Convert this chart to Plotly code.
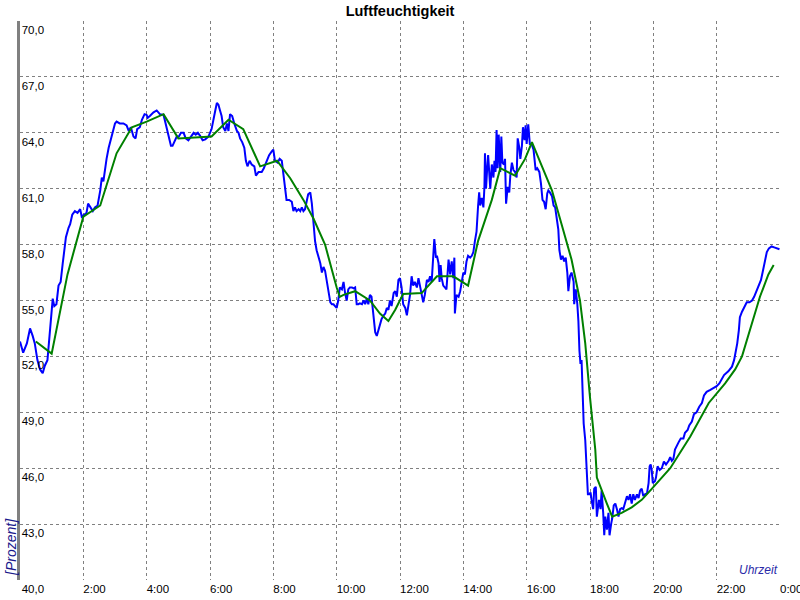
import plotly.graph_objects as go

# ---- data (minutes since midnight, relative humidity %) ----
blue_min = [0, 6, 13, 19, 24, 28, 33, 38, 43, 47, 52, 56, 59, 62, 65, 69, 73, 77, 81, 84, 87, 92, 95, 99, 104, 109, 114, 117, 122, 126, 129, 134, 138, 142, 147, 152, 155, 158, 161, 164, 168, 172, 176, 180, 183, 189, 196, 202, 206, 210, 215, 219, 222, 227, 231, 236,
            240, 242, 246, 253, 259, 265, 272, 276, 279, 282, 286, 289, 294, 297, 301, 305, 310, 314, 319, 324, 329, 333, 337, 341, 346, 351, 357, 363, 366, 370, 373, 376, 379, 382, 385, 389, 392, 395, 398, 402, 406, 411, 414, 417, 421, 425, 428, 431, 435, 439, 444, 447, 452, 458, 462, 467, 472,
            477, 480, 483, 488, 492, 496, 499, 502, 505, 510, 515, 518, 521, 524, 528, 531, 534, 537, 540, 543, 546, 550, 553, 556, 559, 562, 565, 569, 572, 575, 578, 581, 584, 588, 591, 594, 597, 600, 603, 606, 610, 613, 616, 619, 622, 625, 629, 632, 635, 638, 641, 644, 648, 651, 654, 657, 660, 663, 666, 670, 673, 676, 679, 682, 685, 689, 692, 695, 698, 701, 704, 708,
            711, 714, 717, 720, 723, 726, 730, 733, 736, 739, 742, 745, 748, 752, 755, 758, 761, 764, 767, 771, 774, 777, 780, 782, 785, 786, 788, 790, 793, 795, 797, 799, 802, 805, 808, 812, 815, 818, 821, 823, 824, 827, 831, 834, 837, 840, 843, 846, 849, 853, 856, 859, 862, 865, 868, 870, 872, 875, 878, 880, 881, 883, 885, 887, 891, 894, 897, 899, 901, 903, 905, 907, 910, 912, 914, 917, 919, 921, 924, 927, 929, 932, 935, 938, 941, 943, 946, 948, 951, 953, 956, 958, 960, 963,
            966, 970, 973, 975, 977, 980, 984, 987, 990, 993, 996, 999, 1001, 1004, 1008, 1011, 1014, 1017, 1020, 1022, 1025, 1028, 1031, 1034, 1037, 1039, 1042, 1045, 1049, 1050, 1053, 1056, 1058, 1060, 1062, 1064, 1066, 1068, 1071, 1073, 1074, 1076, 1079, 1081, 1083, 1086, 1088, 1091, 1093, 1095, 1097, 1100, 1102, 1105, 1107, 1109, 1112, 1115, 1117, 1120, 1122, 1125, 1128, 1131, 1134, 1137, 1140, 1143, 1146, 1150, 1153, 1156, 1159, 1162, 1165, 1169, 1172, 1175, 1178, 1181, 1184, 1188, 1191, 1193, 1195, 1197,
            1199, 1203, 1205, 1208, 1212, 1216, 1220, 1224, 1229, 1232, 1235, 1238, 1241, 1244, 1248, 1252, 1257, 1260, 1265, 1268, 1273, 1277, 1282, 1287, 1292, 1296, 1301, 1308, 1314, 1320, 1325, 1330, 1334, 1342, 1349, 1353, 1357, 1359, 1362, 1364, 1368, 1372, 1377, 1382, 1387, 1391, 1395, 1399, 1404, 1407, 1411, 1415, 1419, 1424, 1429, 1434, 1439]
blue_val = [52.8, 52.2, 52.7, 53.5, 53.1, 52.7, 51.8, 51.3, 51.1, 51.5, 51.8, 53.1, 54.0, 55.1, 54.7, 54.8, 55.8, 56.0, 57.0, 57.9, 58.4, 58.9, 59.1, 59.6, 59.8, 59.7, 59.9, 59.5, 59.6, 59.7, 60.2, 60.0, 59.8, 60.0, 60.1, 60.9, 61.6, 61.4, 62.1, 62.6, 63.2, 63.6, 64.1, 64.5, 64.6, 64.5, 64.5, 64.4, 64.1, 64.3, 63.8, 63.7, 64.2, 64.3, 64.7, 65.0,
            64.96, 64.8, 64.9, 65.1, 65.2, 65.0, 64.96, 64.5, 64.0, 63.8, 63.3, 63.3, 63.6, 63.8, 63.8, 64.0, 64.0, 63.7, 63.6, 63.8, 64.0, 63.9, 64.0, 63.85, 63.6, 63.65, 63.8, 64.2, 64.7, 65.2, 65.6, 65.5, 65.2, 64.9, 64.3, 64.1, 64.5, 64.1, 65.0, 64.9, 64.5, 64.1, 64.0, 63.7, 63.5, 63.2, 62.5, 62.2, 62.5, 62.3, 62.2, 61.7, 61.9, 61.9, 62.1, 62.5, 62.8,
            63.0, 63.1, 62.5, 62.4, 62.6, 62.5, 61.8, 60.9, 60.4, 60.4, 60.3, 59.8, 60.0, 59.8, 59.9, 59.8, 60.0, 59.8, 59.9, 60.3, 60.7, 60.8, 60.2, 59.2, 58.2, 57.7, 57.4, 57.0, 56.5, 56.8, 56.6, 56.1, 55.4, 54.9, 54.8, 54.8, 54.7, 54.6, 55.0, 55.7, 55.6, 56.0, 55.4, 55.0, 55.6, 55.7, 55.7, 55.65, 55.7, 54.8, 54.8, 54.85, 54.8, 55.0, 54.8, 55.1, 54.8, 55.3, 55.2, 54.0, 53.3, 53.1, 53.4, 53.6, 54.0, 54.2, 54.3, 54.6, 54.5, 55.0, 54.7, 55.4,
            55.5, 55.2, 56.1, 56.2, 55.7, 54.8, 54.6, 54.2, 54.7, 55.3, 56.3, 55.8, 56.0, 55.7, 56.2, 55.7, 55.3, 54.9, 55.3, 56.1, 56.0, 56.3, 56.0, 57.1, 58.3, 58.0, 57.3, 57.4, 57.0, 56.0, 56.9, 56.2, 55.8, 55.7, 55.6, 57.2, 56.4, 57.1, 56.2, 57.3, 54.3, 55.3, 55.2, 55.5, 56.1, 56.5, 56.4, 57.1, 57.4, 57.3, 57.4, 57.6, 58.2, 58.7, 60.1, 60.8, 60.1, 60.5, 60.0, 61.1, 62.9, 61.0, 62.0, 62.8, 61.0, 62.3, 61.6, 62.5, 61.9, 64.15, 62.1, 63.9, 61.9, 63.8, 62.4, 62.3, 62.6, 60.2, 61.1, 60.8, 61.7, 62.4, 62.0, 61.9, 61.6, 63.7, 63.2, 62.6, 63.3, 64.3, 63.6, 64.4, 63.4, 64.45,
            63.4, 63.35, 63.1, 62.5, 62.0, 62.1, 61.9, 61.3, 60.4, 60.3, 59.9, 60.75, 60.9, 60.8, 60.6, 60.1, 60.0, 59.4, 58.8, 57.7, 57.2, 57.4, 57.1, 57.3, 56.5, 55.5, 56.3, 56.5, 56.0, 54.8, 55.6, 54.8, 53.9, 52.3, 51.6, 51.8, 50.0, 48.4, 47.5, 46.3, 45.4, 44.6, 44.6, 44.7, 44.3, 43.8, 44.9, 45.0, 43.4, 43.9, 44.3, 43.8, 44.8, 43.6, 42.4, 43.4, 42.7, 43.6, 42.4, 43.0, 43.3, 44.0, 44.1, 43.8, 43.4, 43.8, 43.85, 43.8, 44.1, 44.5, 44.3, 44.6, 44.1, 44.6, 44.3, 44.6, 44.4, 44.8, 44.9, 44.5, 44.6, 44.65, 45.2, 46.1, 46.2, 45.9,
            45.2, 45.3, 45.5, 46.1, 45.9, 46.0, 46.35, 46.2, 46.4, 46.6, 46.4, 46.5, 47.0, 47.2, 47.4, 47.6, 47.6, 47.9, 48.05, 48.3, 48.5, 48.9, 49.0, 49.3, 49.5, 49.9, 50.1, 50.2, 50.3, 50.4, 50.55, 50.8, 51.0, 51.2, 51.45, 51.8, 52.3, 52.7, 53.4, 54.1, 54.4, 54.6, 54.9, 54.9, 55.0, 55.2, 55.5, 55.7, 56.1, 56.5, 57.0, 57.6, 57.8, 57.9, 57.85, 57.8, 57.75]

green_min = [30, 60, 90, 120, 152, 183, 212, 240, 272, 300, 363, 395, 423, 455, 487, 512, 537, 556, 578, 591, 600, 606, 613, 635, 663, 682, 698, 711, 726, 761, 790, 821, 849, 868, 894, 910, 938, 957, 970, 989, 1008, 1026, 1045, 1061, 1071, 1080, 1090, 1093, 1102, 1112, 1122, 1140, 1159, 1178, 1194, 1232, 1270, 1305, 1336, 1355, 1368, 1383, 1402, 1418, 1428]
green_val = [52.8, 52.15, 56.4, 59.5, 60.1, 62.9, 64.3, 64.6, 65.0, 63.7, 63.8, 64.7, 64.2, 62.2, 62.5, 61.56, 60.4, 59.4, 58.0, 56.6, 55.7, 55.2, 55.3, 55.5, 55.0, 54.3, 53.9, 54.5, 55.35, 55.4, 56.3, 56.3, 55.8, 58.2, 60.4, 62.1, 61.7, 62.6, 63.5, 62.2, 60.9, 59.1, 57.2, 55.0, 52.7, 49.8, 47.0, 45.5, 44.8, 44.1, 43.4, 43.6, 43.9, 44.3, 44.8, 46.0, 47.7, 49.5, 50.55, 51.3, 52.0, 53.4, 55.2, 56.4, 56.9]

x_tickvals = [2, 4, 6, 8, 10, 12, 14, 16, 18, 20, 22, 24]
x_ticktext = ["2:00", "4:00", "6:00", "8:00", "10:00", "12:00", "14:00", "16:00", "18:00", "20:00", "22:00", "0:00"]
y_tickvals = [40, 43, 46, 49, 52, 55, 58, 61, 64, 67, 70]
y_ticktext = ["40,0", "43,0", "46,0", "49,0", "52,0", "55,0", "58,0", "61,0", "64,0", "67,0", "70,0"]

FONT = "Liberation Sans, Arial, sans-serif"

fig = go.Figure()
fig.add_trace(go.Scatter(x=[m / 60 for m in blue_min], y=blue_val, mode="lines",
                         line=dict(color="#0000FF", width=2), hoverinfo="skip"))
fig.add_trace(go.Scatter(x=[m / 60 for m in green_min], y=green_val, mode="lines",
                         line=dict(color="#008000", width=2), hoverinfo="skip"))

fig.update_layout(
    width=800, height=600,
    margin=dict(l=20, r=20, t=21, b=20, autoexpand=False),
    paper_bgcolor="white", plot_bgcolor="white",
    showlegend=False,
    font=dict(family=FONT, color="#000000", size=11.5),
    title=dict(text="<b>Luftfeuchtigkeit</b>", x=0.5, xanchor="center",
               xref="paper", yref="container", y=1 - 10.5 / 600, yanchor="middle",
               font=dict(family=FONT, size=14.5, color="#000000")),
    xaxis=dict(range=[0, 24], tickmode="array", tickvals=x_tickvals, ticktext=x_ticktext,
               showgrid=True, gridcolor="#808080", gridwidth=1, griddash="3px,3px",
               zeroline=False, showline=False, ticks="", automargin=False,
               ticklabelposition="outside right", ticklabeloverflow="allow",
               tickfont=dict(family=FONT, size=11.5, color="#000000")),
    yaxis=dict(range=[40, 70], tickmode="array", tickvals=y_tickvals, ticktext=y_ticktext,
               showgrid=True, gridcolor="#808080", gridwidth=1, griddash="3px,3px",
               zeroline=False, showline=True, linecolor="#808080", linewidth=3,
               ticks="", ticklabelposition="inside", ticklabelshift=9, ticklabelstandoff=1,
               ticklabeloverflow="allow", automargin=False,
               tickfont=dict(family=FONT, size=11.5, color="#000000")),
    annotations=[
        dict(text="<i>[Prozent]</i>", textangle=-90, xref="paper", yref="paper",
             x=-9 / 760, y=2 / 559, xanchor="center", yanchor="bottom", showarrow=False,
             font=dict(family=FONT, size=14, color="#1a1a8c")),
        dict(text="<i>Uhrzeit</i>", xref="paper", yref="paper",
             x=1, y=10 / 559, xanchor="right", yanchor="middle", showarrow=False,
             font=dict(family=FONT, size=12, color="#2a2aa8")),
    ],
)

fig.write_html("out.html", config={"displayModeBar": False},
               post_script="document.body.style.margin='0';document.body.style.overflow='hidden';")
